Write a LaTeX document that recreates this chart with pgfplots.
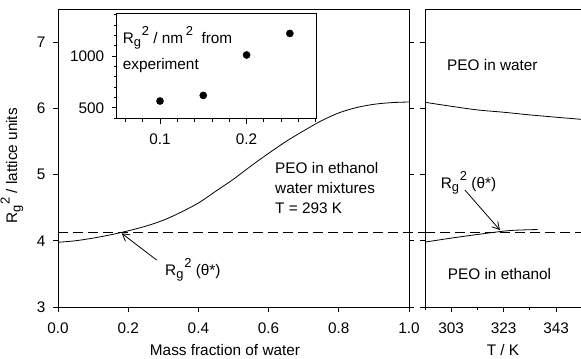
\documentclass[border=0pt]{standalone}
\usepackage{pgfplots}
\pgfplotsset{compat=1.18}
\usepackage{fontspec}
\setmainfont{Liberation Sans}
\usetikzlibrary{arrows.meta}
\newcommand\fs{\fontsize{15.4}{18}\selectfont}
\newcommand\sm{\fontsize{13}{14}\selectfont}
\newcommand\Rg{R\raisebox{-3.5bp}{\sm g}\kern0.8bp\raisebox{7.5bp}{\sm 2}}
\begin{document}
\begin{tikzpicture}[x=1bp,y=1bp,font=\fs]
\useasboundingbox (0,0) rectangle (581,358);
\pgfplotsset{every axis/.append style={scale only axis, tick align=outside,
  major tick length=5bp, minor tick length=3bp,
  axis line style={line width=0.8bp},
  every tick/.style={black,line width=0.8bp},
  tick label style={font=\fs},
  xticklabel style={yshift=-7bp},
  yticklabel style={xshift=-4bp},
  /pgf/number format/assume math mode=true,
  /pgf/number format/1000 sep={}}}
% ---------------- left axis
\begin{axis}[at={(58bp,51bp)}, anchor=south west, width=351bp, height=298.1bp,
  xmin=0, xmax=1, ymin=3, ymax=7.5,
  xtick={0,0.2,0.4,0.6,0.8,1.0}, xticklabels={0.0,0.2,0.4,0.6,0.8,1.0},
  ytick={3,4,5,6,7},
  xtick pos=bottom, ytick pos=both, yticklabel pos=left, clip=false]
\addplot[black, line width=0.8bp, smooth] coordinates {
(0,3.977) (0.05,4.00) (0.1,4.04) (0.15,4.09) (0.2,4.15) (0.25,4.22) (0.3,4.31)
(0.35,4.43) (0.4,4.57) (0.45,4.75) (0.5,4.93) (0.55,5.13) (0.6,5.32) (0.65,5.50)
(0.7,5.66) (0.75,5.81) (0.8,5.93) (0.85,6.01) (0.9,6.06) (0.95,6.085) (1.0,6.095)};
\addplot[black, line width=0.8bp, dash pattern=on 10bp off 5bp] coordinates {(0,4.13) (1.0456,4.13)};
\draw[line width=0.8bp, -{Straight Barb[length=7bp,width=8bp]}] (axis cs:0.281,3.709) -- (axis cs:0.1815,4.112);
\end{axis}
% ---------------- right axis
\begin{axis}[at={(425bp,51bp)}, anchor=south west, width=158.6bp, height=298.1bp,
  xmin=293, xmax=353.5, ymin=3, ymax=7.5,
  xtick={303,323,343}, minor xtick={293,313,333,353},
  ytick={3,4,5,6,7}, yticklabels={},
  xtick pos=bottom, ytick pos=left, clip=false]
\addplot[black, line width=0.8bp, smooth] coordinates {
(293,6.09) (303,6.03) (313,5.975) (323,5.94) (333,5.90) (343,5.865) (353.5,5.83)};
\addplot[black, line width=0.8bp, smooth] coordinates {
(293,3.98) (303,4.04) (313,4.095) (323,4.145) (328,4.16) (336,4.17)};
\addplot[black, line width=0.8bp, dash pattern=on 10bp off 5bp] coordinates {(293,4.13) (353.5,4.13)};
\draw[line width=0.8bp, -{Straight Barb[length=7bp,width=8bp]}] (axis cs:308.2,4.766) -- (axis cs:321.57,4.162);
\end{axis}
% ---------------- inset
\begin{axis}[at={(116.7bp,239.3bp)}, anchor=south west, width=200bp, height=105.4bp,
  xmin=0.05, xmax=0.281, ymin=394, ymax=1413,
  xtick={0.1,0.2}, minor xtick={0.06,0.08,0.12,0.14,0.16,0.18,0.22,0.24,0.26,0.28},
  ytick={500,1000}, minor ytick={400,600,700,800,900,1100,1200,1300,1400},
  xtick pos=bottom, ytick pos=left,
  axis background/.style={fill=white}]
\addplot[only marks, mark=*, mark size=3.6pt, black] coordinates {
(0.1,565) (0.15,619) (0.2,1010) (0.25,1218)};
\end{axis}
% ---------------- texts
\node[anchor=base west, inner sep=0] at (122.7,315) {\Rg\ / nm\,\raisebox{7.5bp}{\sm 2}\ \ from};
\node[anchor=base west, inner sep=0] at (122.7,289) {experiment};
\node[anchor=base west, inner sep=0] at (275,184.7) {PEO in ethanol};
\node[anchor=base west, inner sep=0] at (275,164.7) {water mixtures};
\node[anchor=base west, inner sep=0] at (275,144.7) {T = 293 K};
\node[anchor=base west, inner sep=0] at (447,288) {PEO in water};
\node[anchor=base west, inner sep=0] at (447.7,78.7) {PEO in ethanol};
\node[anchor=base west, inner sep=0] at (165,83) {\Rg\ (θ*)};
\node[anchor=base west, inner sep=0] at (440.7,169.7) {\Rg\ (θ*)};
\node[rotate=90, inner sep=0] at (12,192) {\Rg\ / lattice units};
\node[inner sep=0] at (225,8) {Mass fraction of water};
\node[inner sep=0] at (503,8) {T / K};
\end{tikzpicture}
\end{document}
